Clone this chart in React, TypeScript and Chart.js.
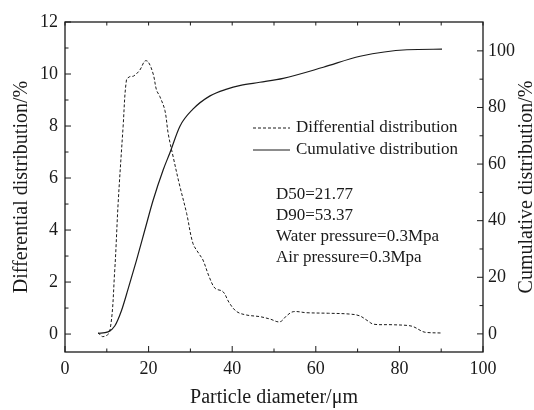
import React, { useEffect, useRef } from "react";
import { Chart, registerables } from "chart.js";

Chart.register(...registerables);

// ---- data ----
const diffX = [7.9, 9.1, 10.7, 11.9, 12.7, 13.9, 14.7, 15.5, 16.4, 17.9, 19.1, 19.9, 21.1, 21.9, 22.7, 23.9, 24.7, 25.9, 27.3, 29.1, 30.6, 32.0, 33.0, 34.5, 35.9, 37.8, 39.3, 41.1, 43.5, 46.6, 49.0, 51.4, 53.0, 54.6, 57.8, 63.0, 68.0, 70.5, 72.5, 73.8, 78.0, 82.0, 83.4, 85.5, 86.6, 90.2];
const diffY = [0.05, -0.1, 0.09, 2.46, 5.0, 7.97, 9.77, 9.9, 9.92, 10.15, 10.5, 10.47, 10.0, 9.38, 9.13, 8.6, 7.7, 6.8, 5.8, 4.64, 3.49, 3.1, 2.85, 2.2, 1.76, 1.63, 1.2, 0.86, 0.73, 0.67, 0.58, 0.47, 0.7, 0.86, 0.82, 0.8, 0.77, 0.7, 0.5, 0.38, 0.36, 0.33, 0.28, 0.1, 0.06, 0.04];

const cumX = [7.9, 10.3, 11.9, 13.5, 15.1, 17.1, 19.1, 21.1, 23.5, 25.1, 27.5, 30.6, 34.7, 38.7, 42.0, 46.6, 52.2, 61.8, 70.6, 81.8, 90.2];
const cumY = [0.2, 0.7, 2.8, 8.2, 15.9, 26, 36.7, 47.3, 58, 64, 73.4, 79.4, 84.1, 86.5, 87.8, 88.9, 90.3, 94.2, 98.1, 100.4, 100.6];

const xTicks = [0, 20, 40, 60, 80, 100];
const xMinor = [10, 30, 50, 70, 90];
const leftTicks = [0, 2, 4, 6, 8, 10, 12];
const leftMinor = [1, 3, 5, 7, 9, 11];
const rightTicks = [0, 20, 40, 60, 80, 100];
const rightMinor = [10, 30, 50, 70, 90];

const legendLabels = ["Differential distribution", "Cumulative distribution"];
const notes = ["D50=21.77", "D90=53.37", "Water pressure=0.3Mpa", "Air pressure=0.3Mpa"];
const rightTitle = "Cumulative distribution/%";

const FONT = "'Liberation Serif', 'Times New Roman', serif";
const INK = "#1a1a1a";

const framePlugin = {
  id: "frameTicks",
  afterDraw(chart: any) {
    const ctx = chart.ctx;
    const { left, right, top, bottom } = chart.chartArea;
    const sx = chart.scales.x;
    const sy = chart.scales.y;
    const sy1 = chart.scales.y1;
    ctx.save();
    ctx.strokeStyle = INK;
    ctx.lineWidth = 1.3;
    ctx.setLineDash([]);
    ctx.strokeRect(left, top, right - left, bottom - top);
    ctx.lineWidth = 1;
    const major = 6;
    const minor = 3.5;
    ctx.beginPath();
    xTicks.forEach((v) => {
      const p = sx.getPixelForValue(v);
      ctx.moveTo(p, bottom);
      ctx.lineTo(p, bottom - major);
      ctx.moveTo(p, top);
      ctx.lineTo(p, top + minor);
    });
    xMinor.forEach((v) => {
      const p = sx.getPixelForValue(v);
      ctx.moveTo(p, bottom);
      ctx.lineTo(p, bottom - minor);
      ctx.moveTo(p, top);
      ctx.lineTo(p, top + minor);
    });
    leftTicks.forEach((v) => {
      const p = sy.getPixelForValue(v);
      ctx.moveTo(left, p);
      ctx.lineTo(left + major, p);
    });
    leftMinor.forEach((v) => {
      const p = sy.getPixelForValue(v);
      ctx.moveTo(left, p);
      ctx.lineTo(left + minor, p);
    });
    rightTicks.forEach((v) => {
      const p = sy1.getPixelForValue(v);
      ctx.moveTo(right, p);
      ctx.lineTo(right - major, p);
    });
    rightMinor.forEach((v) => {
      const p = sy1.getPixelForValue(v);
      ctx.moveTo(right, p);
      ctx.lineTo(right - minor, p);
    });
    ctx.stroke();

    // legend
    ctx.font = `17px ${FONT}`;
    ctx.fillStyle = INK;
    ctx.textBaseline = "middle";
    ctx.textAlign = "left";
    const lx0 = left + 188;
    const lx1 = left + 225;
    const ly = [top + 106, top + 128];
    const dashes = [[3, 2], []];
    ly.forEach((y, i) => {
      ctx.beginPath();
      ctx.setLineDash(dashes[i]);
      ctx.lineWidth = 1;
      ctx.moveTo(lx0, y);
      ctx.lineTo(lx1, y);
      ctx.stroke();
      ctx.fillText(legendLabels[i], lx1 + 6, y);
    });
    ctx.setLineDash([]);

    // annotation
    notes.forEach((t, i) => {
      ctx.fillText(t, left + 211, top + 173 + i * 21);
    });

    // right axis title (reads bottom to top)
    ctx.font = `20px ${FONT}`;
    ctx.textAlign = "center";
    ctx.translate(chart.width - 7, (top + bottom) / 2);
    ctx.rotate(-Math.PI / 2);
    ctx.fillText(rightTitle, 0, 0);
    ctx.restore();
  },
};

export default function App() {
  const ref = useRef<HTMLCanvasElement>(null);
  useEffect(() => {
    const canvas = ref.current!;
    const chart = new Chart(canvas, {
      type: "line",
      data: {
        datasets: [
          {
            label: legendLabels[0],
            data: diffX.map((x, i) => ({ x, y: diffY[i] })),
            borderColor: INK,
            borderWidth: 1,
            borderDash: [3, 2],
            pointRadius: 0,
            tension: 0.35,
            yAxisID: "y",
          },
          {
            label: legendLabels[1],
            data: cumX.map((x, i) => ({ x, y: cumY[i] })),
            borderColor: INK,
            borderWidth: 1.2,
            pointRadius: 0,
            cubicInterpolationMode: "monotone",
            yAxisID: "y1",
          },
        ],
      },
      options: {
        responsive: false,
        animation: false,
        layout: { padding: { top: 22, left: 0, right: 0, bottom: 0 } },
        plugins: { legend: { display: false }, tooltip: { enabled: false } },
        scales: {
          x: {
            type: "linear",
            min: 0,
            max: 100,
            afterFit: (s: any) => { s.height = 58; },
            afterBuildTicks: (s: any) => { s.ticks = xTicks.map((v) => ({ value: v })); },
            grid: { display: false, drawTicks: false },
            border: { display: false },
            ticks: { color: INK, font: { family: FONT, size: 18 }, padding: 6, maxRotation: 0, autoSkip: false },
            title: { display: true, text: "Particle diameter/μm", color: INK, font: { family: FONT, size: 20 }, padding: { top: 0, bottom: 0 } },
          },
          y: {
            position: "left",
            min: -0.69,
            max: 12,
            afterFit: (s: any) => { s.width = 65; },
            afterBuildTicks: (s: any) => { s.ticks = leftTicks.map((v) => ({ value: v })); },
            grid: { display: false, drawTicks: false },
            border: { display: false },
            ticks: { color: INK, font: { family: FONT, size: 18 }, padding: 7, autoSkip: false },
            title: { display: true, text: "Differential distribution/%", color: INK, font: { family: FONT, size: 20 }, padding: { top: 10, bottom: 0 } },
          },
          y1: {
            position: "right",
            min: -6.4,
            max: 110.2,
            afterFit: (s: any) => { s.width = 51; },
            afterBuildTicks: (s: any) => { s.ticks = rightTicks.map((v) => ({ value: v })); },
            grid: { display: false, drawTicks: false },
            border: { display: false },
            ticks: { color: INK, font: { family: FONT, size: 18 }, padding: 5, autoSkip: false },
            title: { display: false },
          },
        },
      },
      plugins: [framePlugin],
    } as any);
    return () => chart.destroy();
  }, []);
  return (
    <div style={{ position: "absolute", left: 0, top: 0, width: 534, height: 410, background: "#fff" }}>
      <canvas ref={ref} width={534} height={410} />
    </div>
  );
}
